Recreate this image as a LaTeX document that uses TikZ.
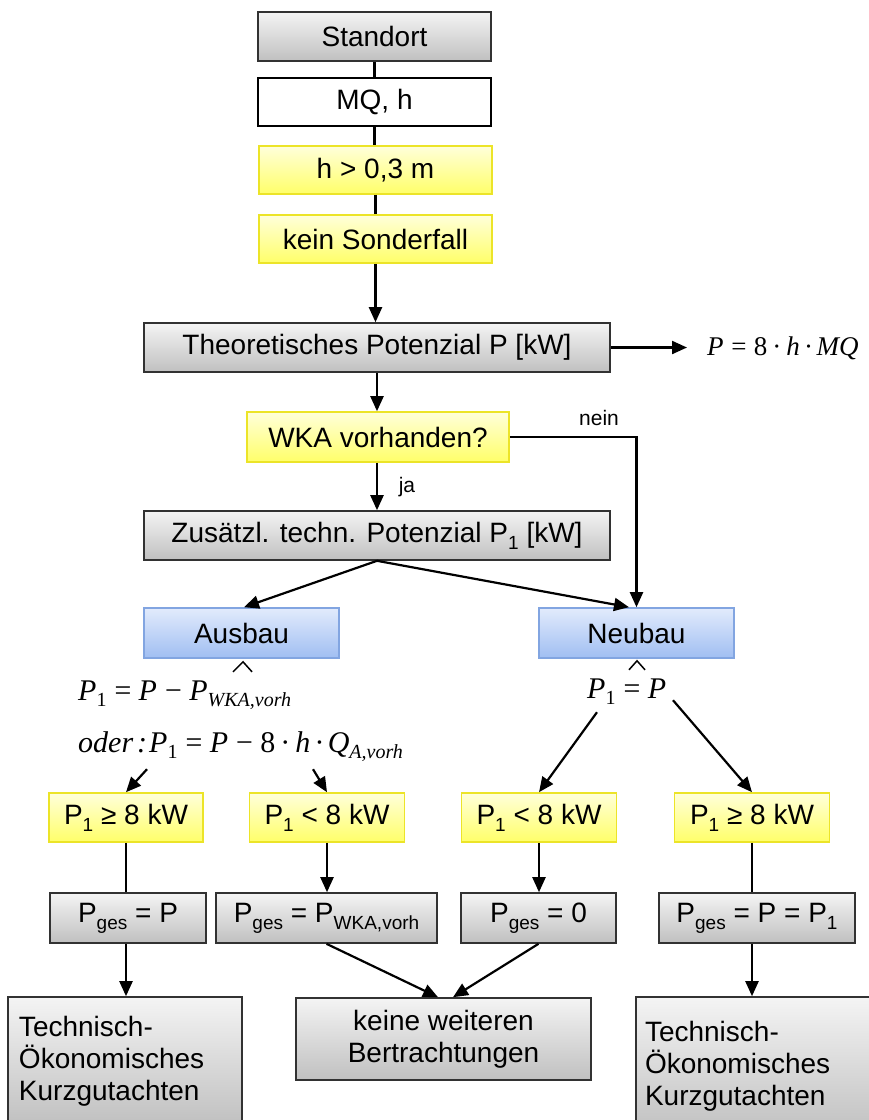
\documentclass[tikz,border=0pt]{standalone}
\usepackage{fontspec}
\setmainfont{Liberation Sans}
\newfontfamily\tms{Liberation Serif}
\usetikzlibrary{arrows.meta,calc}
\definecolor{gtop}{RGB}{244,244,244}
\definecolor{gbot}{RGB}{192,192,192}
\definecolor{gbd}{RGB}{50,50,50}
\definecolor{ytop}{RGB}{255,255,218}
\definecolor{ybot}{RGB}{255,255,105}
\definecolor{ybd}{RGB}{236,228,40}
\definecolor{btop}{RGB}{226,235,252}
\definecolor{bbot}{RGB}{160,190,242}
\definecolor{bbd}{RGB}{130,165,225}
\newcommand\lw[1]{\raisebox{-7pt}{\fontsize{19}{19}\selectfont #1}}
\newcommand\mlw[1]{\raisebox{-6pt}{\fontsize{20}{20}\selectfont #1}}
\newcommand\meq{\hspace{6pt}=\hspace{6pt}}
\newcommand\mmn{\hspace{6pt}−\hspace{6pt}}
\newcommand\mdt{\hspace{5pt}·\hspace{5pt}}
\begin{document}
\begin{tikzpicture}[x=1pt,y=-1pt,
 base/.style={rectangle, inner sep=0pt, font=\fontsize{28}{32}\selectfont, text=black},
 gbox/.style={base, draw=gbd, line width=1.6pt, top color=gtop, bottom color=gbot},
 wbox/.style={base, draw=black, line width=1.6pt, fill=white},
 ybox/.style={base, draw=ybd, line width=1.6pt, top color=ytop, bottom color=ybot},
 bluebox/.style={base, draw=bbd, line width=1.6pt, top color=btop, bottom color=bbot},
 ln/.style={line width=2.2pt, draw=black},
 arr/.style={ln, -{Triangle[length=15pt,width=13pt]}},
 frm/.style={inner sep=0pt, font=\tms\fontsize{30}{32}\selectfont\itshape, anchor=base west},
 lbl/.style={inner sep=0pt, font=\fontsize{21}{22}\selectfont}
]
\clip (0,0) rectangle (869,1120);
\fill[white] (0,0) rectangle (869,1120);

% top column
\node[gbox, minimum width=233pt, minimum height=49pt] (std) at (374.5,36.5) {Standort};
\node[wbox, minimum width=233pt, minimum height=48pt] (mq) at (374.5,102) {MQ, h};
\node[ybox, minimum width=233pt, minimum height=48pt] (h03) at (375.5,170) {h > 0,3 m};
\node[ybox, minimum width=233pt, minimum height=48pt] (kein) at (375.5,239) {kein Sonderfall};
\node[gbox, minimum width=466pt, minimum height=49pt] (theo) at (377,347.5) {Theoretisches Potenzial P [kW]};
\node[frm, font=\tms\fontsize{27}{30}\selectfont\itshape] (f0) at (707,355) {P\meq\upshape 8\mdt\itshape h\mdt MQ};
\node[ybox, minimum width=262pt, minimum height=50pt] (wka) at (378,437) {WKA vorhanden?};
\node[gbox, minimum width=466pt, minimum height=49pt] (zus) at (377,535.5) {Zusätzl. techn. Potenzial P\lw{1} [kW]};
\node[bluebox, minimum width=195pt, minimum height=50pt] (aus) at (241.5,633) {Ausbau};
\node[bluebox, minimum width=195pt, minimum height=50pt] (neu) at (636.5,633) {Neubau};
\node[lbl] (nein) at (599,418) {nein};
\node[lbl] (ja) at (407,487) {ja};

% formulas
\node[frm] (fa1) at (78,700) {P\mlw{\upshape 1}\meq P\mmn P\mlw{WKA,vorh}};
\node[frm] (fa2) at (78,752) {oder\hspace{4pt}:\hspace{2pt}P\mlw{\upshape 1}\meq P\mmn\upshape 8\mdt\itshape h\mdt Q\mlw{A,vorh}};
\node[frm] (fn) at (587,698) {P\mlw{\upshape 1}\meq P};

% conditions
\node[ybox, minimum width=154pt, minimum height=49pt] (y1) at (126,817.5) {P\lw{1} ≥ 8 kW};
\node[ybox, minimum width=155pt, minimum height=49pt] (y2) at (327,817.5) {P\lw{1} < 8 kW};
\node[ybox, minimum width=155pt, minimum height=49pt] (y3) at (539,817.5) {P\lw{1} < 8 kW};
\node[ybox, minimum width=155pt, minimum height=49pt] (y4) at (752,817.5) {P\lw{1} ≥ 8 kW};

% results
\node[gbox, minimum width=156pt, minimum height=50pt] (g1) at (128,918) {P\lw{ges} = P};
\node[gbox, minimum width=221pt, minimum height=50pt] (g2) at (326.5,918) {P\lw{ges} = P\lw{WKA,vorh}};
\node[gbox, minimum width=155pt, minimum height=50pt] (g3) at (538.5,918) {P\lw{ges} = 0};
\node[gbox, minimum width=196pt, minimum height=50pt] (g4) at (757,918) {P\lw{ges} = P = P\lw{1}};

% bottom
\node[gbox, minimum width=234pt, minimum height=128pt, inner xsep=11pt, text width=212pt, align=left] (b1) at (125,1061) {Technisch-\\Ökonomisches\\Kurzgutachten};
\node[gbox, minimum width=295pt, minimum height=82pt, align=center] (b2) at (443.5,1039) {keine weiteren\\Bertrachtungen};
\node[gbox, minimum width=234pt, minimum height=138pt, inner xsep=9pt, text width=216pt, align=left] (b4) at (753,1066) {Technisch-\\Ökonomisches\\Kurzgutachten};

% connectors
\draw[ln] (std.south) -- (mq.north);
\draw[ln] (mq.south) -- (mq.south |- h03.north);
\draw[ln] (h03.south) -- (kein.north);
\draw[arr] (kein.south) -- (kein.south |- theo.north);
\draw[arr, shorten >=20pt] (theo.east) -- (theo.east -| f0.west);
\draw[arr] (theo.south) -- (theo.south |- wka.north);
\draw[arr] (wka.south -| theo.south) -- (zus.north);
\draw[arr] (wka.east) -| (neu.north);
\draw[arr] (zus.south) -- ([xshift=2.5pt]aus.north);
\draw[arr] (zus.south) -- ([xshift=-7.5pt]neu.north);

% chevrons
\draw[ln, line width=1.5pt] ([xshift=-8.5pt,yshift=-13pt]aus.south) -- ([xshift=1.5pt,yshift=-3pt]aus.south) -- ([xshift=10.5pt,yshift=-13pt]aus.south);
\draw[ln, line width=1.5pt] ([xshift=-7.5pt,yshift=-11pt]neu.south) -- ([xshift=0.5pt,yshift=-2pt]neu.south) -- ([xshift=8.5pt,yshift=-11pt]neu.south);

\draw[arr] ($(y1.north)+(21,-23)$) -- (y1.north);
\draw[arr] ($(y2.north)+(-14,-23)$) -- (y2.north);
\draw[arr] ($(y3.north)+(58,-80)$) -- (y3.north);
\draw[arr] ($(y4.north)+(-79,-92)$) -- (y4.north);

\draw[ln] (y1.south) -- (y1.south |- g1.north);
\draw[arr] (y2.south) -- (y2.south |- g2.north);
\draw[arr] (y3.south) -- (y3.south |- g3.north);
\draw[ln] (y4.south) -- (y4.south |- g4.north);

\draw[arr] (g1.south -| y1.south) -- (b1.north -| y1.south);
\draw[arr] (g2.south) -- ([xshift=-5.5pt]b2.north);
\draw[arr] (g3.south) -- ([xshift=9.5pt]b2.north);
\draw[arr] (g4.south -| y4.south) -- (b4.north -| y4.south);
\end{tikzpicture}
\end{document}
